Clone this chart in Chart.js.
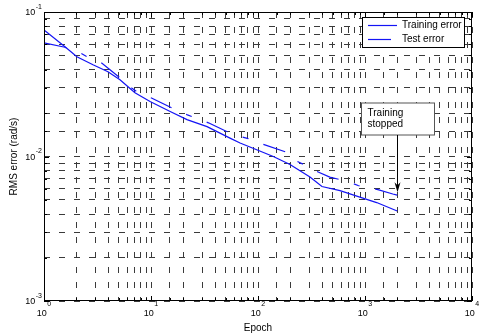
<!DOCTYPE html>
<html lang="en">
<head>
<meta charset="UTF-8" />
<title>RMS error vs epoch</title>
<style>
  html, body { margin: 0; padding: 0; background: #fff; }
  #wrap { width: 480px; height: 334px; }
</style>
</head>
<body>
<script src="https://cdn.jsdelivr.net/npm/chart.js@4.4.0/dist/chart.umd.min.js"></script>
<div id="wrap"><canvas id="errChart" width="480" height="334"></canvas></div>
<script>
// values (log-log)
var trainEpochs = [1, 1.57, 2.03, 2.87, 3.96, 5.13, 6.1, 7.08, 9.8, 15.1, 21.7, 33.4, 54.7, 68, 139, 199, 306, 396, 584, 1285, 2000];
var trainError = [0.0752, 0.0574, 0.0490, 0.0431, 0.0386, 0.0340, 0.0304, 0.0276, 0.0240, 0.0205, 0.0180, 0.0161, 0.0134, 0.0124, 0.0100, 0.0088, 0.0072, 0.0062, 0.0058, 0.0048, 0.0042];
var testEpochs = [1, 1.57, 2.2, 2.5, 3.46, 4.95, 6.6, 7.35, 10.1, 15.6, 21.6, 24.5, 34.4, 51, 70, 81, 106, 192, 229, 306, 339, 469, 697, 861, 1320, 1820, 2000];
var testError = [0.0611, 0.0570, 0.0519, 0.0492, 0.0443, 0.0358, 0.0298, 0.0282, 0.0254, 0.0217, 0.0195, 0.0188, 0.0171, 0.0149, 0.0137, 0.0133, 0.0123, 0.0106, 0.0093, 0.0084, 0.0080, 0.0072, 0.0067, 0.0063, 0.0059, 0.0055, 0.0054];
var xTicks = [1, 10, 100, 1000, 10000];
var xExps = ["0", "1", "2", "3", "4"];
var yTicks = [0.001, 0.01, 0.1];
var yExps = ["-3", "-2", "-1"];
var seriesNames = ["Training error", "Test error"];
var stopEpoch = 2000;
var stopError = 0.00565;

var FONT = '"Liberation Sans", Arial, sans-serif';
var BLUE = "#1414f5";
var testDash = [23, 16, 6, 16];

function pairs(xs, ys) {
  return xs.map(function (x, i) { return { x: x, y: ys[i] }; });
}

function isMajor(v) {
  var l = Math.log10(v);
  return Math.abs(l - Math.round(l)) < 1e-6;
}

function drawPow(ctx, exp, x, y, mode) {
  ctx.font = "9px " + FONT;
  var wb = ctx.measureText("10").width;
  ctx.font = "7px " + FONT;
  var we = ctx.measureText(exp).width;
  var total = wb + we + 0.5;
  var sx = mode === "x" ? x - total / 2 : x - total;
  ctx.fillStyle = "#000";
  ctx.textAlign = "left";
  ctx.textBaseline = "alphabetic";
  ctx.font = "9px " + FONT;
  if (mode === "x") {
    ctx.fillText("10", sx, y + 14.5);
    ctx.font = "7px " + FONT;
    ctx.fillText(exp, sx + wb + 0.5, y + 5);
  } else {
    ctx.fillText("10", sx, y + 3.3);
    ctx.font = "7px " + FONT;
    ctx.fillText(exp, sx + wb + 0.5, y - 3.5);
  }
}

var decor = {
  id: "decor",
  afterDraw: function (chart) {
    var ctx = chart.ctx;
    var a = chart.chartArea;
    var xs = chart.scales.x, ys = chart.scales.y;
    ctx.save();

    // axes box
    ctx.strokeStyle = "#000";
    ctx.lineWidth = 1;
    ctx.setLineDash([]);
    ctx.strokeRect(Math.round(a.left) + 0.5, Math.round(a.top) + 0.5,
      Math.round(a.right - a.left) - 1, Math.round(a.bottom - a.top) - 1);

    // inner tick marks
    ctx.beginPath();
    xs.ticks.forEach(function (t) {
      var px = Math.round(xs.getPixelForValue(t.value)) + 0.5;
      var L = isMajor(t.value) ? 5 : 3;
      ctx.moveTo(px, a.bottom); ctx.lineTo(px, a.bottom - L);
      ctx.moveTo(px, a.top); ctx.lineTo(px, a.top + L);
    });
    ys.ticks.forEach(function (t) {
      var py = Math.round(ys.getPixelForValue(t.value)) + 0.5;
      var L = isMajor(t.value) ? 5 : 3;
      ctx.moveTo(a.left, py); ctx.lineTo(a.left + L, py);
      ctx.moveTo(a.right, py); ctx.lineTo(a.right - L, py);
    });
    ctx.stroke();

    // tick labels
    xTicks.forEach(function (v, i) {
      drawPow(ctx, xExps[i], xs.getPixelForValue(v), a.bottom, "x");
    });
    yTicks.forEach(function (v, i) {
      drawPow(ctx, yExps[i], a.left - 2, ys.getPixelForValue(v), "y");
    });

    // axis titles
    ctx.fillStyle = "#000";
    ctx.font = "10px " + FONT;
    ctx.textAlign = "center";
    ctx.textBaseline = "middle";
    ctx.fillText("Epoch", (a.left + a.right) / 2, 328);
    ctx.save();
    ctx.translate(14, (a.top + a.bottom) / 2);
    ctx.rotate(-Math.PI / 2);
    ctx.fillText("RMS error (rad/s)", 0, 0);
    ctx.restore();

    // legend
    var lx = Math.round(a.right) - 110, ly = Math.round(a.top) + 5;
    ctx.fillStyle = "#fff";
    ctx.fillRect(lx, ly, 102, 30);
    ctx.strokeStyle = "#000";
    ctx.strokeRect(lx + 0.5, ly + 0.5, 102, 30);
    ctx.strokeStyle = BLUE;
    ctx.lineWidth = 1.2;
    ctx.beginPath();
    ctx.moveTo(lx + 6, ly + 8.5); ctx.lineTo(lx + 35, ly + 8.5);
    ctx.stroke();
    ctx.setLineDash(testDash);
    ctx.beginPath();
    ctx.moveTo(lx + 6, ly + 22.5); ctx.lineTo(lx + 35, ly + 22.5);
    ctx.stroke();
    ctx.setLineDash([]);
    ctx.lineWidth = 1;
    ctx.fillStyle = "#000";
    ctx.textAlign = "left";
    ctx.fillText(seriesNames[0], lx + 40, ly + 8.5);
    ctx.fillText(seriesNames[1], lx + 40, ly + 22.5);

    // "Training stopped" note
    var ax = Math.round(xs.getPixelForValue(stopEpoch)) + 0.5;
    var tipY = ys.getPixelForValue(stopError);
    var bx = ax - 36, by = 103, bw = 73, bh = 32;
    ctx.fillStyle = "#fff";
    ctx.fillRect(bx, by, bw, bh);
    ctx.strokeStyle = "#555";
    ctx.strokeRect(bx, by, bw, bh);
    ctx.fillStyle = "#000";
    ctx.fillText("Training", bx + 6, by + 10);
    ctx.fillText("stopped", bx + 6, by + 21);
    ctx.strokeStyle = "#000";
    ctx.beginPath();
    ctx.moveTo(ax, by + bh); ctx.lineTo(ax, tipY - 3);
    ctx.stroke();
    ctx.fillStyle = "#000";
    ctx.beginPath();
    ctx.moveTo(ax, tipY);
    ctx.lineTo(ax - 3, tipY - 10);
    ctx.lineTo(ax, tipY - 7);
    ctx.lineTo(ax + 3, tipY - 10);
    ctx.closePath();
    ctx.fill();

    ctx.restore();
  }
};

var gridOpts = { color: "#3a3a3a", lineWidth: 1, drawTicks: false };

new Chart(document.getElementById("errChart"), {
  type: "line",
  data: {
    datasets: [
      {
        label: seriesNames[0],
        data: pairs(trainEpochs, trainError),
        borderColor: BLUE,
        borderWidth: 1.2,
        pointRadius: 0,
        tension: 0,
        fill: false
      },
      {
        label: seriesNames[1],
        data: pairs(testEpochs, testError),
        borderColor: BLUE,
        borderWidth: 1.2,
        borderDash: testDash,
        pointRadius: 0,
        tension: 0,
        fill: false
      }
    ]
  },
  options: {
    responsive: false,
    devicePixelRatio: 1,
    animation: false,
    layout: { padding: { top: 12, right: 8, left: 0, bottom: 0 } },
    plugins: { legend: { display: false }, tooltip: { enabled: false } },
    scales: {
      x: {
        type: "logarithmic",
        min: 1,
        max: 10000,
        grid: gridOpts,
        border: { display: false, dash: [6, 9] },
        ticks: { display: false, autoSkip: false },
        afterFit: function (s) { s.height = 33; }
      },
      y: {
        type: "logarithmic",
        min: 0.001,
        max: 0.1,
        grid: gridOpts,
        border: { display: false, dash: [6, 9] },
        ticks: { display: false, autoSkip: false },
        afterFit: function (s) { s.width = 44; }
      }
    }
  },
  plugins: [decor]
});
</script>
</body>
</html>
